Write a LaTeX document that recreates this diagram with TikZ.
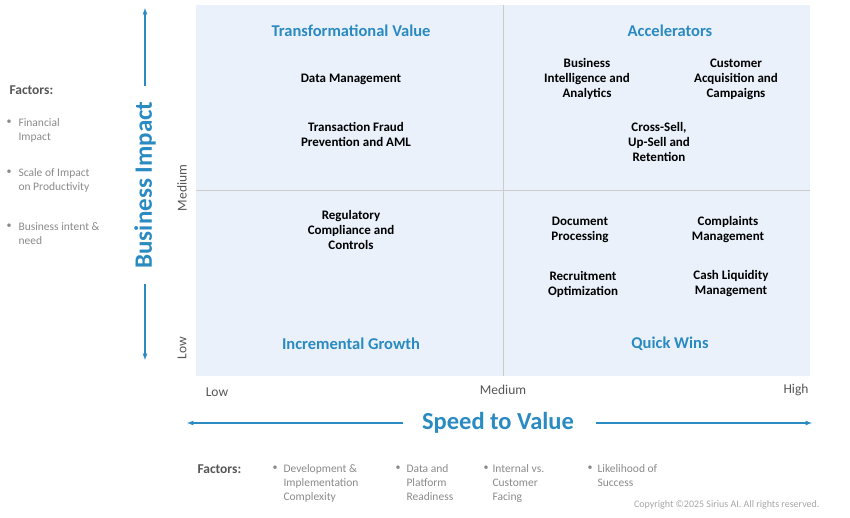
\documentclass[tikz,border=0pt]{standalone}
\usepackage{fontspec}
\setmainfont{Carlito}
\definecolor{qblue}{HTML}{2A8AC2}
\definecolor{qbg}{HTML}{EAF1FA}
\definecolor{gtext}{HTML}{8A8A8A}
\definecolor{dtext}{HTML}{555555}
\begin{document}
\begin{tikzpicture}[x=1pt,y=-1pt,
  item/.style={font=\bfseries\fontsize{13}{15}\selectfont,align=center,text=black},
  qtitle/.style={font=\bfseries\fontsize{16.5}{18}\selectfont,text=qblue},
  axlab/.style={font=\fontsize{13.5}{15}\selectfont,text=dtext},
  fac/.style={font=\fontsize{11.5}{14}\selectfont,text=gtext,align=left,anchor=north west},
  bul/.style={font=\fontsize{10}{14}\selectfont,text=gtext,anchor=north},
  facT/.style={font=\bfseries\fontsize{13.5}{15}\selectfont,text=dtext,anchor=west},
  axarrow/.style={qblue,line width=1.2pt,-latex}]
\useasboundingbox (0,0) rectangle (850,517);
\fill[qbg] (196,5) rectangle (810,376);
\draw[black!20,line width=0.8pt] (503,5) -- (503,376) (196,190) -- (810,190);
\node[qtitle] (tv) at (351,31) {Transformational Value};
\node[qtitle] (acc) at (670,31) {Accelerators};
\node[qtitle] (ig) at (351,344) {Incremental Growth};
\node[qtitle] (qw) at (670,344) {Quick Wins};
\node[item] (dm) at (351,79) {Data Management};
\node[item] (tf) at (356,134) {Transaction Fraud\\Prevention and AML};
\node[item] (rc) at (351,230) {Regulatory\\Compliance and\\Controls};
\node[item] (bi) at (587,79) {Business\\Intelligence and\\Analytics};
\node[item] (ca) at (736,79) {Customer\\Acquisition and\\Campaigns};
\node[item] (cs) at (659,142) {Cross-Sell,\\Up-Sell and\\Retention};
\node[item] (dp) at (580,230) {Document\\Processing};
\node[item] (cm) at (728,230) {Complaints\\Management};
\node[item] (ro) at (583,284) {Recruitment\\Optimization};
\node[item] (cl) at (731,284) {Cash Liquidity\\Management};
% vertical axis
\node[font=\bfseries\fontsize{25}{27}\selectfont,text=qblue,rotate=90] (bim) at (145,185) {Business Impact};
\coordinate (vt) at (145,8);
\coordinate (vb) at (145,360);
\draw[axarrow] (145,86) -- (vt);
\draw[axarrow] (145,284) -- (vb);
\node[axlab,rotate=90] (vmed) at (182,188) {Medium};
\node[axlab,rotate=90] (vlow) at (182,348) {Low};
\node[axlab] (hlow) at (217,392) {Low};
\node[axlab] (hmed) at (503,390) {Medium};
\node[axlab] (hhigh) at (796,390) {High};
% horizontal axis
\node[font=\bfseries\fontsize{24.5}{27}\selectfont,text=qblue] (stv) at (498,423) {Speed to Value};
\coordinate (hl) at (187,423);
\coordinate (hr) at (812,423);
\draw[axarrow] (403,423) -- (hl);
\draw[axarrow] (596,423) -- (hr);
% left factors
\node[facT] (lf) at (6,90) {Factors:};
\node[bul] at (9,116) {•};
\node[fac] (lf1) at (15,115) {Financial\\Impact};
\node[bul] at (9,166) {•};
\node[fac] (lf2) at (15,165) {Scale of Impact\\on Productivity};
\node[bul] at (9,220) {•};
\node[fac] (lf3) at (15,219) {Business intent \&\\need};
% bottom factors
\node[facT] (bf) at (194,469) {Factors:};
\node[bul] at (275,462) {•};
\node[fac] (bf1) at (280,461) {Development \&\\Implementation\\Complexity};
\node[bul] at (398,462) {•};
\node[fac] (bf2) at (403,461) {Data and\\Platform\\Readiness};
\node[bul] at (486,462) {•};
\node[fac] (bf3) at (489,461) {Internal vs.\\Customer\\Facing};
\node[bul] at (590,462) {•};
\node[fac] (bf4) at (594,461) {Likelihood of\\Success};
\node[font=\fontsize{10}{12}\selectfont,text=black!35,anchor=east] (copy) at (823,505) {Copyright ©2025 Sirius AI. All rights reserved.};
\end{tikzpicture}
\end{document}
